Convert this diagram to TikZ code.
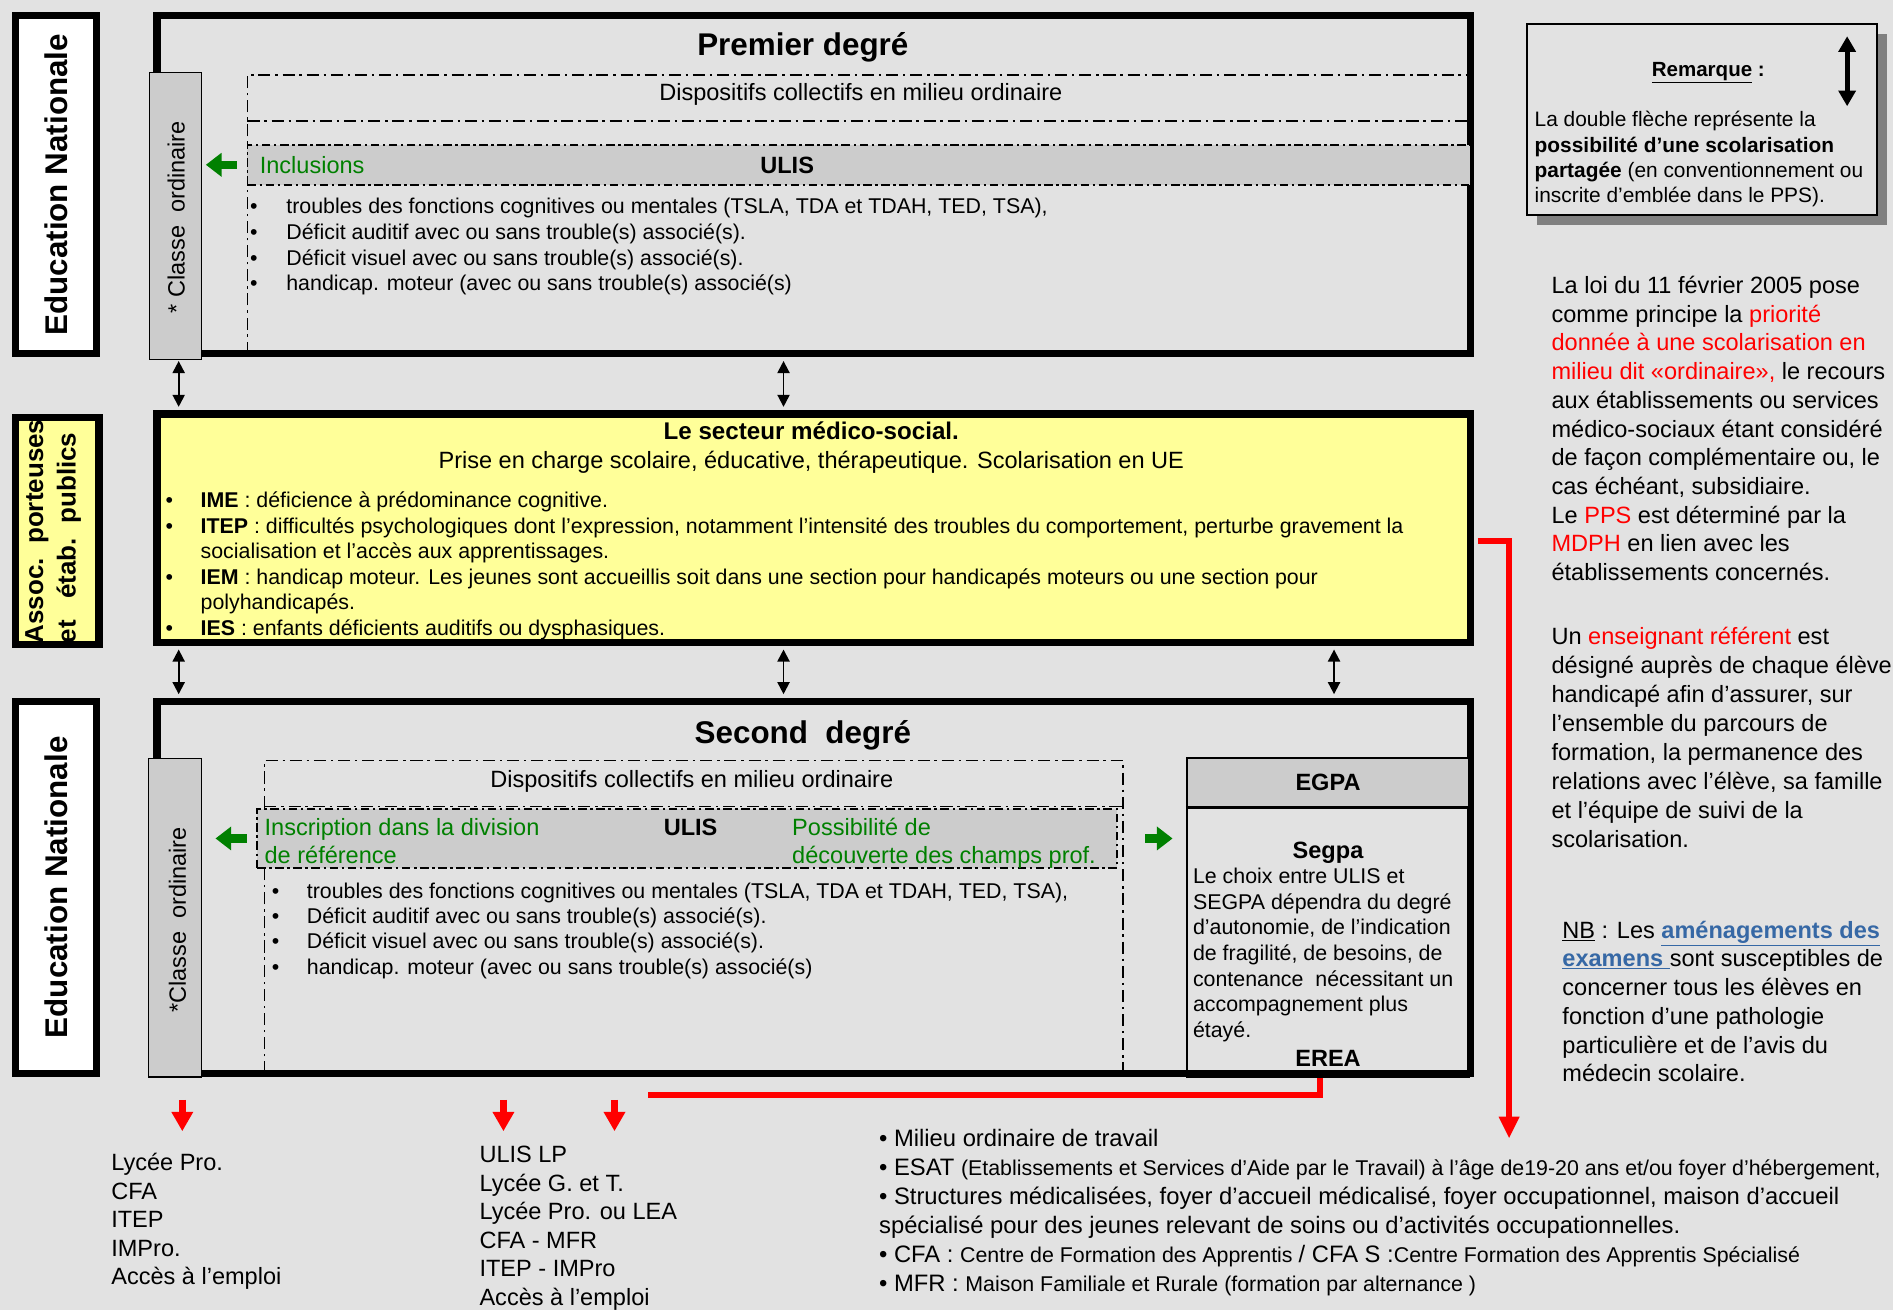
\documentclass[tikz,border=0pt]{standalone}
\usepackage{fontspec}
\setmainfont{Liberation Sans}
\usetikzlibrary{arrows.meta,positioning}

\definecolor{fond}{RGB}{226,226,226}
\definecolor{jaune}{RGB}{255,255,153}
\definecolor{grisbande}{RGB}{204,204,204}
\definecolor{vert}{RGB}{0,128,0}
\definecolor{rouge}{RGB}{255,0,0}
\definecolor{lien}{RGB}{54,104,165}
\definecolor{ombre}{RGB}{128,128,128}

\tikzset{
  cadre/.style={draw=black, line width=6pt, inner sep=0pt},
  etiquette/.style={draw=black, line width=6pt, fill=white, inner sep=0pt},
  barre/.style={draw=black, line width=1pt, fill=grisbande, inner sep=0pt},
  bande/.style={draw=black, line width=1.4pt, fill=grisbande, inner sep=0pt, dash pattern=on 7pt off 3pt on 2pt off 3pt},
  tiret/.style={line width=1.4pt, dash pattern=on 10pt off 4pt on 2pt off 4pt},
  petit/.style={inner sep=0pt, anchor=base west, font=\fontsize{17.7}{21.3}\selectfont},
  moyen/.style={inner sep=0pt, font=\fontsize{19.5}{23.7}\selectfont},
  gras/.style={inner sep=0pt, font=\bfseries\fontsize{19.5}{23.7}\selectfont},
  titre/.style={inner sep=0pt, anchor=base, font=\bfseries\fontsize{26}{30}\selectfont},
  texterot/.style={inner sep=0pt, rotate=90, font=\bfseries\fontsize{26}{30}\selectfont},
  classerot/.style={inner sep=0pt, rotate=90, font=\fontsize{19.5}{23}\selectfont},
  bas/.style={inner sep=0pt, anchor=base west, align=left, font=\fontsize{19.5}{23.6}\selectfont},
  droite/.style={inner sep=0pt, anchor=base west, align=left, font=\fontsize{19.5}{23.8}\selectfont},
  doublefl/.style={line width=1.6pt, shorten <=3pt, shorten >=3pt, {Triangle[length=10pt,width=10pt]}-{Triangle[length=10pt,width=10pt]}},
  flvert/.style={draw=vert, line width=7pt, -{Triangle[length=13pt,width=19pt]}},
  rougeligne/.style={draw=rouge, line width=5pt},
  flrouge/.style={draw=rouge, line width=6pt, -{Triangle[length=16pt,width=17pt]}},
}
\newcommand{\petitbas}{\fontsize{17.7}{24}\selectfont}

\begin{document}
\begin{tikzpicture}[x=1pt,y=1pt,yscale=-1]
\useasboundingbox (0,0) rectangle (1568,1085);
\fill[fond] (0,0) rectangle (1568,1085);

%Shape: Rectangle [labels de gauche]
\node (en1) [etiquette, minimum width=67, minimum height=280] at (46.5,153) {};
\node (en1txt) [texterot] at (en1.center) {Education Nationale};
\node (assoc) [etiquette, fill=jaune, minimum width=69, minimum height=188] at (47.5,440) {};
\node (assoctxt) [texterot, anchor=west, align=left, font=\bfseries\fontsize{21.5}{27}\selectfont] at (44,533) {Assoc.\ \ porteuses\\et\ \ \ étab.\ \ publics};
\node (en2) [etiquette, minimum width=67, minimum height=308] at (46.5,735) {};
\node (en2txt) [texterot] at (en2.center) {Education Nationale};

%Shape: Rectangle [premier degre]
\node (prem) [cadre, minimum width=1088, minimum height=280] at (674,153) {};
\node (titre1) [titre] at (665,46) {Premier degré};
\draw[tiret] (205,293) -- (205,62) -- (1218,62);
\draw[tiret] (205,100) -- (1218,100);
\node (dispo1) [moyen] at (713,78) {Dispositifs collectifs en milieu ordinaire};
\node (ulis1) [bande, minimum width=1013, minimum height=33] at (711.5,136.5) {};
\node (incl) [moyen, anchor=base west, text=vert] at (215,144) {Inclusions};
\node (ulistxt1) [gras, anchor=base] at (652,144) {ULIS};
\node (classe1) [barre, minimum width=43, minimum height=238] at (145.5,179) {};
\node (classe1txt) [classerot] at (146,180) {* Classe\ \ ordinaire};
\draw[flvert, shorten <=8pt, shorten >=3pt] (ulis1.west) -- (classe1.east |- ulis1.west);
\foreach \ligne [count=\i from 0] in {{troubles des fonctions cognitives ou mentales (TSLA, TDA et TDAH, TED, TSA),},{Déficit auditif avec ou sans trouble(s) associé(s).},{Déficit visuel avec ou sans trouble(s) associé(s).},{handicap. moteur (avec ou sans trouble(s) associé(s)}}
{
  \node (puce1-\i) [petit] at (207,177+21.3*\i) {\textbullet};
  \node (item1-\i) [petit] at (237,177+21.3*\i) {\ligne};
}

%Shape: Rectangle [medico-social]
\node (med) [cadre, fill=jaune, minimum width=1088, minimum height=189] at (674,437.5) {};
\node (medtitre) [gras, anchor=base, font=\bfseries\fontsize{20}{24}\selectfont] at (672,364) {Le secteur médico-social.};
\node (medsous) [moyen, anchor=base] at (672,388) {Prise en charge scolaire, éducative, thérapeutique. Scolarisation en UE};
\foreach \y in {420,442,484,526}
  \node (pucem-\y) [petit] at (137,\y) {\textbullet};
\foreach \y/\ligne in {420/{\textbf{IME} : déficience à prédominance cognitive.},
  442/{\textbf{ITEP} : difficultés psychologiques dont l’expression, notamment l’intensité des troubles du comportement, perturbe gravement la},
  463/{socialisation et l’accès aux apprentissages.},
  484/{\textbf{IEM} : handicap moteur. Les jeunes sont accueillis soit dans une section pour handicapés moteurs ou une section pour},
  505/{polyhandicapés.},
  526/{\textbf{IES} : enfants déficients auditifs ou dysphasiques.}}
  \node (itemm-\y) [petit] at (166,\y) {\ligne};

%Shape: Rectangle [second degre]
\node (sec) [cadre, minimum width=1088, minimum height=308] at (674,735) {};
\node (titre2) [titre] at (665,616) {Second\ \ degré};
\draw[tiret] (219,889) -- (219,630) -- (930,630) -- (930,889);
\draw[tiret] (219,668) -- (930,668);
\node (dispo2) [moyen] at (573,647) {Dispositifs collectifs en milieu ordinaire};
\node (ulis2) [bande, minimum width=712, minimum height=49] at (569,694.5) {};
\node (inscr) [moyen, anchor=base west, text=vert] at (219,692) {Inscription dans la division};
\node (inscr2) [moyen, anchor=base west, text=vert] at (219,715) {de référence};
\node (ulistxt2) [gras, anchor=base] at (572,692) {ULIS};
\node (decouv) [moyen, anchor=base west, text=vert] at (656,692) {Possibilité de};
\node (decouv2) [moyen, anchor=base west, text=vert] at (656,715) {découverte des champs prof.};
\node (classe2) [barre, minimum width=44, minimum height=264] at (145,760) {};
\node (classe2txt) [classerot] at (147,762) {*Classe\ \ ordinaire};
\foreach \ligne [count=\i from 0] in {{troubles des fonctions cognitives ou mentales (TSLA, TDA et TDAH, TED, TSA),},{Déficit auditif avec ou sans trouble(s) associé(s).},{Déficit visuel avec ou sans trouble(s) associé(s).},{handicap. moteur (avec ou sans trouble(s) associé(s)}}
{
  \node (puce2-\i) [petit] at (225,744+21*\i) {\textbullet};
  \node (item2-\i) [petit] at (254,744+21*\i) {\ligne};
}

%Shape: Rectangle [EGPA]
\node (egpa) [draw=black, line width=1.5pt, inner sep=0pt, minimum width=234, minimum height=264] at (1100,760) {};
\node (egpahaut) [draw=black, line width=1.5pt, fill=grisbande, inner sep=0pt, minimum width=234, minimum height=40, anchor=north] at (egpa.north) {};
\draw[line width=3pt] (egpahaut.south west) -- (egpahaut.south east);
\node (egpatxt) [gras] at (egpahaut.center) {EGPA};
\node (segpa) [gras, anchor=base] at (1100,711) {Segpa};
\foreach \ligne [count=\i from 0] in {Le choix entre ULIS et,SEGPA dépendra du degré,{d’autonomie, de l’indication},{de fragilité, de besoins, de},contenance\ \ nécessitant un,accompagnement plus,étayé.}
  \node (choix-\i) [petit] at (988,732+21.2*\i) {\ligne};
\node (erea) [gras, anchor=base] at (1100,883) {EREA};

%Straight Lines [fleches vertes]
\draw[flvert, shorten <=8pt, shorten >=11pt] (ulis2.west) -- (classe2.east |- ulis2.west);
\draw[flvert, shorten <=23pt, shorten >=11pt] (ulis2.east) -- (egpa.west |- ulis2.east);

%Straight Lines [doubles fleches]
\coordinate (a1) at (148,0);
\coordinate (a2) at (649,0);
\coordinate (a3) at (1105,0);
\draw[doublefl] (prem.south -| a1) -- (med.north -| a1);
\draw[doublefl] (prem.south -| a2) -- (med.north -| a2);
\draw[doublefl] (med.south -| a1) -- (sec.north -| a1);
\draw[doublefl] (med.south -| a2) -- (sec.north -| a2);
\draw[doublefl] (med.south -| a3) -- (sec.north -| a3);

%Straight Lines [rouge]
\coordinate (coude) at (1250,448);
\coordinate (sortie) at (1250,943);
\draw[rougeligne, shorten <=3pt, -{Triangle[length=18pt,width=16pt]}] (med.east |- coude) -- (coude) -- (sortie);
\coordinate (coin) at (1093,907);
\coordinate (finrouge) at (537,907);
\draw[rougeligne] (egpa.south -| coin) -- (coin) -- (finrouge);
\foreach \x [count=\i] in {151,417,509}
{
  \coordinate (bas\i) at (\x,937);
  \draw[flrouge, shorten <=19pt] (sec.south -| bas\i) -- (bas\i);
}

% Text Node [orientations] (base = derniere ligne)
\node (orient1) [bas] at (92,1064) {Lycée Pro.\\CFA\\ITEP\\IMPro.\\Accès à l’emploi};
\node (orient2) [bas] at (397,1081) {ULIS LP\\Lycée G. et T.\\Lycée Pro. ou LEA\\CFA - MFR\\ITEP - IMPro\\Accès à l’emploi};
\node (orient3) [bas, font=\fontsize{19.7}{24}\selectfont] at (728,1070) {%
• Milieu ordinaire de travail\\
• ESAT {\petitbas (Etablissements et Services d'Aide par le Travail) à l'âge de19-20 ans et/ou foyer d'hébergement,}\\
• Structures médicalisées, foyer d'accueil médicalisé, foyer occupationnel, maison d'accueil\\
spécialisé pour des jeunes relevant de soins ou d'activités occupationnelles.\\
• CFA : {\petitbas Centre de Formation des Apprentis }/ CFA S :{\petitbas Centre Formation des Apprentis Spécialisé}\\
• MFR : {\petitbas Maison Familiale et Rurale (formation par alternance )}};

%Shape: Rectangle [remarque]
\fill[ombre] (1273,28) rectangle (1563,186);
\node (remarque) [draw=black, line width=1.5pt, fill=fond, inner sep=0pt, minimum width=290, minimum height=158] at (1410,99) {};
\node (remtitre) [inner sep=0pt, anchor=base, font=\bfseries\fontsize{17}{20}\selectfont] at (1415,63) {\underline{Remarque} :};
\coordinate (fh) at (1530,30);
\coordinate (fb) at (1530,88);
\draw[line width=4pt, {Triangle[length=13pt,width=14pt]}-{Triangle[length=13pt,width=14pt]}] (fh) -- (fb);
\node (remtexte) [droite, font=\fontsize{17.3}{21}\selectfont] at (1271,168) {La double flèche représente la\\\textbf{possibilité d’une scolarisation}\\\textbf{partagée} (en conventionnement ou\\inscrite d’emblée dans le PPS).};

% Text Node [paragraphes] (base = derniere ligne)
\node (loi) [droite] at (1285,481) {La loi du 11 février 2005 pose\\comme principe la \textcolor{rouge}{priorité}\\\textcolor{rouge}{donnée à une scolarisation en}\\\textcolor{rouge}{milieu dit «ordinaire»,} le recours\\aux établissements ou services\\médico-sociaux étant considéré\\de façon complémentaire ou, le\\cas échéant, subsidiaire.\\Le \textcolor{rouge}{PPS} est déterminé par la\\\textcolor{rouge}{MDPH} en lien avec les\\établissements concernés.};
\node (referent) [droite, font=\fontsize{19.5}{24}\selectfont] at (1285,702) {Un \textcolor{rouge}{enseignant référent} est\\désigné auprès de chaque élève\\handicapé afin d'assurer, sur\\l'ensemble du parcours de\\formation, la permanence des\\relations avec l'élève, sa famille\\et l'équipe de suivi de la\\scolarisation.};
\node (nb) [droite] at (1294,896) {\underline{NB} : Les \textcolor{lien}{\textbf{\underline{aménagements des}}}\\\textcolor{lien}{\textbf{\underline{examens }}}sont susceptibles de\\concerner tous les élèves en\\fonction d’une pathologie\\particulière et de l’avis du\\médecin scolaire.};

\end{tikzpicture}
\end{document}
